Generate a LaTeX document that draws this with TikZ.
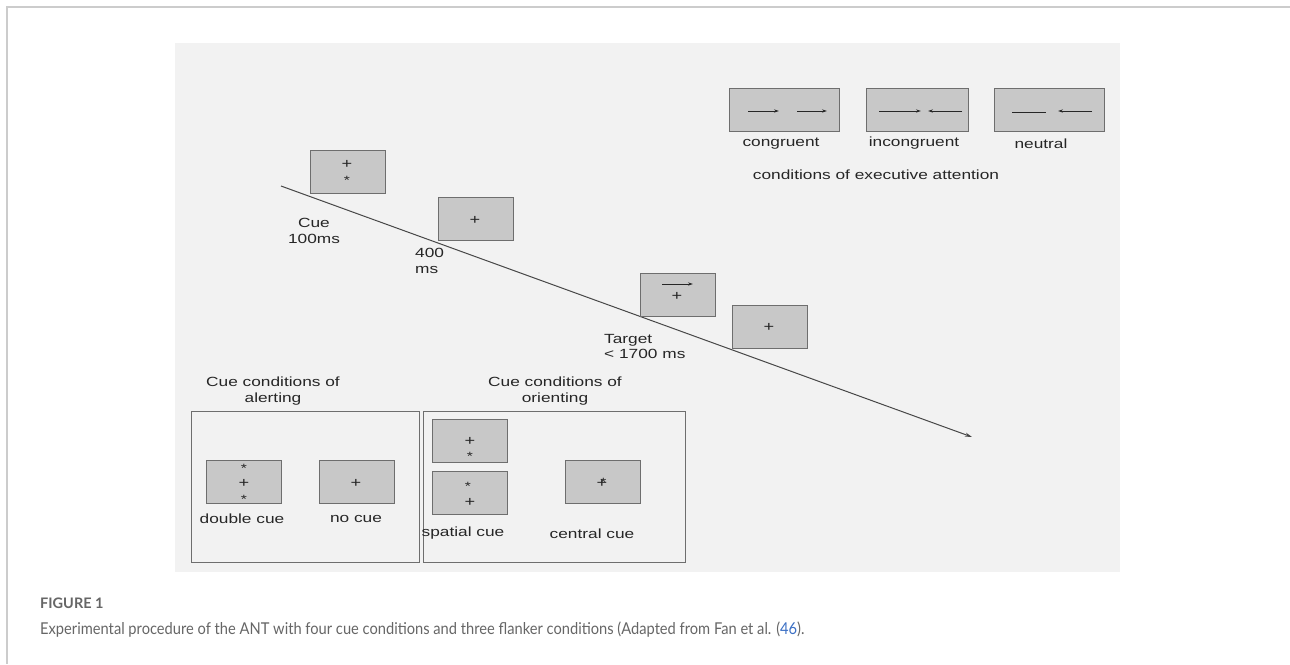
\documentclass[tikz,border=0pt]{standalone}
\usepackage{fontspec}
\usetikzlibrary{arrows.meta}
\newfontfamily\antfont[FakeStretch=1.3]{Liberation Sans}
\newfontfamily\capfont[FakeStretch=0.9]{Lato}
\newfontfamily\capbold{Lato}
\definecolor{panelgray}{HTML}{F2F2F2}
\definecolor{screenfill}{HTML}{C8C8C8}
\definecolor{screenline}{HTML}{6E6E6E}
\definecolor{ink}{HTML}{262626}
\definecolor{capgray}{HTML}{666666}
\definecolor{reflink}{HTML}{3B6FC4}
\definecolor{pagerule}{HTML}{CCCCCC}

\begin{document}
\begin{tikzpicture}[x=1pt, y=-1pt,
every node/.style={inner sep=0pt},
screen/.style={rectangle, fill=screenfill, draw=screenline, line width=0.9pt, minimum width=75pt, minimum height=43pt},
lbl/.style={text=ink, font=\antfont\fontsize{13.3}{15.5}\selectfont},
sym/.style={text=ink, font=\antfont\fontsize{14}{14}\selectfont},
star/.style={sym, yshift=-3pt, font=\antfont\fontsize{12}{12}\selectfont},
cond/.style={rectangle, draw=screenline, line width=0.9pt},
flk/.style={line width=0.8pt, draw=ink, -{Stealth[length=5pt, width=3.2pt]}},
timeline/.style={line width=1pt, draw=ink!85, -{Stealth[length=7pt, width=4pt]}}]
\useasboundingbox (0,0) rectangle (1290,664);
\fill[white] (0,0) rectangle (1290,664);
\draw[pagerule, line width=1.5pt] (1290,7) -- (7,7) -- (7,664);
\fill[panelgray] (175,43) rectangle (1120,572);

\coordinate (tstart) at (281,186);
\coordinate (tend) at (972,437);
\draw[timeline] (tstart) -- (tend);

\node (cue) [screen] at (347.5,171.5) {};
\node (cueplus) [sym] at (347,164) {+};
\node (cuestar) [star] at (347,177) {*};
\node (fix) [screen] at (475.5,219) {};
\node (fixplus) [sym] at (475,220) {+};
\node (target) [screen] at (677.5,294.5) {};
\draw[flk] (662,284) -- (693,284);
\node (tgtplus) [sym] at (677,296) {+};
\node (post) [screen] at (769.5,327) {};
\node (postplus) [sym] at (769,327) {+};

\node (cuelbl) [lbl, align=center] at (314,231) {Cue\\100ms};
\node (isilbl) [lbl, align=left, anchor=west] at (415,261) {400\\ms};
\node (tgtlbl) [lbl, align=left, anchor=west] at (604,346.5) {Target\\< 1700 ms};

\node (cong) [screen, minimum width=110pt] at (784,109.5) {};
\draw[flk] (748,111) -- (779,111);
\draw[flk] (797,111) -- (827,111);
\node (incong) [screen, minimum width=102pt] at (917,109.5) {};
\draw[flk] (879,111) -- (921,111);
\draw[flk] (962,111) -- (928,111);
\node (neut) [screen, minimum width=110pt] at (1049,109.5) {};
\draw[line width=0.8pt, draw=ink] (1012,112) -- (1046,112);
\draw[flk] (1092,111) -- (1058,111);
\node (conglbl) [lbl] at (781,143.5) {congruent};
\node (inconglbl) [lbl] at (914,143.5) {incongruent};
\node (neutlbl) [lbl] at (1041,143.5) {neutral};
\node (execlbl) [lbl] at (876,174.5) {conditions of executive attention};

\node (alertbox) [cond, minimum width=228pt, minimum height=151pt] at (305,486.5) {};
\node (alerttitle) [lbl, align=center] at (273,391) {Cue conditions of\\alerting};
\node (double) [screen] at (244,482) {};
\node (dblstara) [star] at (244,465) {*};
\node (dblplus) [sym] at (244,483) {+};
\node (dblstarb) [star] at (244,496) {*};
\node (nocue) [screen] at (356.5,482) {};
\node (noplus) [sym] at (356,483) {+};
\node (doublelbl) [lbl] at (242,518.5) {double cue};
\node (nocuelbl) [lbl] at (356,518.5) {no cue};

\node (orientbox) [cond, minimum width=262pt, minimum height=151pt] at (554,486.5) {};
\node (orienttitle) [lbl, align=center] at (555,391) {Cue conditions of\\orienting};
\node (spatup) [screen] at (470,440.5) {};
\node (spatupplus) [sym] at (470,441) {+};
\node (spatupstar) [star] at (470,453) {*};
\node (spatdown) [screen] at (470,493) {};
\node (spatdownstar) [star] at (468,483) {*};
\node (spatdownplus) [sym] at (470,502) {+};
\node (central) [screen] at (603,482) {};
\node (centplus) [sym] at (602,483) {+\llap{\raisebox{1pt}{\fontsize{12}{12}\selectfont*}\kern1pt}};
\node (spatlbl) [lbl] at (463,533.5) {spatial cue};
\node (centlbl) [lbl] at (592,533.5) {central cue};

\node (figno) [anchor=west, text=capgray, font=\capbold\bfseries\fontsize{14.5}{16}\selectfont] at (40,603) {FIGURE 1};
\node (caption) [anchor=west, text=capgray, font=\capfont\fontsize{16.3}{19}\selectfont] at (40,630) {Experimental procedure of the ANT with four cue conditions and three flanker conditions (Adapted from Fan et al. (\textcolor{reflink}{46}).};
\end{tikzpicture}
\end{document}
